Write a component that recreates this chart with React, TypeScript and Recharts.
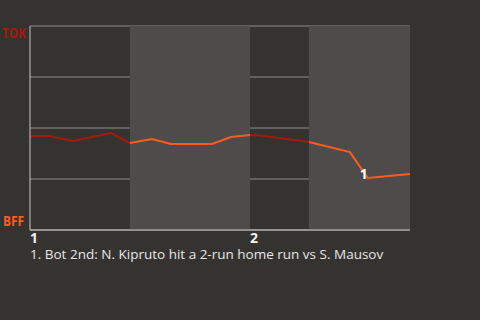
import { ComposedChart, Line, XAxis, YAxis, CartesianGrid, ReferenceArea, ReferenceDot } from 'recharts';

// game progress (0-100) for each play, and home-team (TOK) win chance in %
const progress = [0, 5, 11.3, 21.3, 26.3, 32.1, 37.1, 47.9, 52.9, 57.9, 60.5, 73.4, 84.2, 88.9, 100];
const winProb = [46.1, 46.1, 43.6, 47.5, 42.6, 44.6, 42.2, 42.2, 45.6, 46.6, 46.3, 43.1, 38.2, 25.5, 27.5];

// half innings: [start, end, top?]
const halves: [number, number, boolean][] = [
  [0, 26.3, true],
  [26.3, 57.9, false],
  [57.9, 73.4, true],
  [73.4, 100, false],
];

const inningTicks = [0, 57.9];
const inningLabels = ['1', '2'];
const teamTop = 'TOK';
const teamBottom = 'BFF';

const notes = [{ index: 13, label: '1', text: '1. Bot 2nd: N. Kipruto hit a 2-run home run vs S. Mausov' }];

const RED = '#a5190f';
const ORANGE = '#ff5a1f';
const BG = '#353330';
const BAND = '#4e4c4a';
const FONT = '"Open Sans", "Noto Sans", sans-serif';

const inHalf = (x: number, top: boolean) =>
  halves.some(([a, b, t]) => t === top && x >= a && x <= b);

const data = progress.map((x, i) => ({
  x,
  top: inHalf(x, true) ? winProb[i] : null,
  bottom: inHalf(x, false) ? winProb[i] : null,
}));

function YTick(props: any) {
  const { x, y, payload } = props;
  if (payload.value === 100)
    return (
      <text x={x - 20} y={y + 12} textAnchor="start" fill={RED} fontSize={14} fontWeight={700} fontFamily={FONT}
        textLength={24} lengthAdjust="spacingAndGlyphs">{teamTop}</text>
    );
  if (payload.value === 0)
    return (
      <text x={x - 19} y={y - 4} textAnchor="start" fill={ORANGE} fontSize={14} fontWeight={700} fontFamily={FONT}
        textLength={21} lengthAdjust="spacingAndGlyphs">{teamBottom}</text>
    );
  return null;
}

function XTick(props: any) {
  const { x, y, payload } = props;
  const i = inningTicks.indexOf(payload.value);
  return (
    <text x={x} y={y + 5} textAnchor="start" fill="#f2f2f2" fontSize={14} fontWeight={700} fontFamily={FONT}>
      {inningLabels[i]}
    </text>
  );
}

export default function App() {
  return (
    <div style={{ position: 'absolute', left: 0, top: 0, width: 480, height: 320, background: BG, fontFamily: FONT }}>
      <ComposedChart width={480} height={320} data={data} margin={{ top: 26, right: 70, bottom: 70, left: 0 }}>
        {halves.filter(h => !h[2]).map(([a, b]) => (
          <ReferenceArea key={a} x1={a} x2={b} fill={BAND} fillOpacity={1} stroke="none" ifOverflow="visible" />
        ))}
        <CartesianGrid vertical={false} stroke="#8e8e8e" strokeWidth={1} />
        <XAxis
          type="number"
          dataKey="x"
          domain={[0, 100]}
          ticks={inningTicks}
          tick={<XTick />}
          tickLine={false}
          axisLine={{ stroke: '#c8c8c8' }}
          height={20}
          interval={0}
        />
        <YAxis
          type="number"
          domain={[0, 100]}
          ticks={[0, 25, 50, 75, 100]}
          tick={<YTick />}
          tickLine={false}
          axisLine={{ stroke: '#c8c8c8' }}
          width={30}
          interval={0}
        />
        <Line dataKey="top" stroke={RED} strokeWidth={2} dot={false} type="linear" connectNulls={false} isAnimationActive={false} />
        <Line dataKey="bottom" stroke={ORANGE} strokeWidth={2} dot={false} type="linear" connectNulls={false} isAnimationActive={false} />
        {notes.map(n => (
          <ReferenceDot
            key={n.label}
            x={progress[n.index]}
            y={winProb[n.index]}
            r={0}
            stroke="none"
            label={(p: any) => (
              <text x={p.viewBox.x} y={p.viewBox.y + 1} textAnchor="end" fill="#ffffff" fontSize={14} fontWeight={700} fontFamily={FONT}>
                {n.label}
              </text>
            )}
          />
        ))}
      </ComposedChart>
      {notes.map(n => (
        <div key={n.label} style={{ position: 'absolute', left: 30, top: 246, color: '#e6e6e6', fontSize: 13.5, lineHeight: '16px', whiteSpace: 'nowrap' }}>
          {n.text}
        </div>
      ))}
    </div>
  );
}
